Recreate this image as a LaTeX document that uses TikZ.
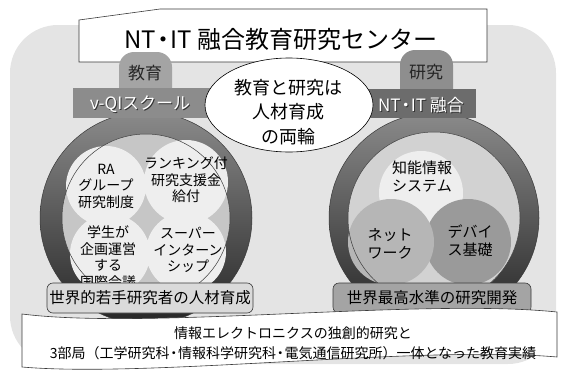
\documentclass[tikz,border=0pt]{standalone}
\usepackage{fontspec}
\setmainfont{Noto Sans CJK JP}
\usetikzlibrary{shapes.geometric}
\definecolor{bgcol}{HTML}{E4E4E4}
\definecolor{tabA}{HTML}{A4A4A4}
\definecolor{tabB}{HTML}{8E8E8E}
\definecolor{barA}{HTML}{8C8C8C}
\definecolor{barB}{HTML}{6C6C6C}
\definecolor{ringtop}{HTML}{8A8A8A}
\definecolor{ringbot}{HTML}{262626}
\definecolor{discL}{HTML}{C6C6C6}
\definecolor{discR}{HTML}{D2D2D2}
\definecolor{circW}{HTML}{EEEEEE}
\definecolor{circM}{HTML}{B6B6B6}
\definecolor{circD}{HTML}{9A9A9A}
\definecolor{lblA}{HTML}{DADADA}
\definecolor{lblB}{HTML}{A4A4A4}
\definecolor{edge}{HTML}{3A3A3A}
\newcommand{\fs}[2]{\fontsize{#1}{#2}\selectfont}
\newcommand{\ndot}{\makebox[0.6em][c]{・}}
\tikzset{
  ctext/.style={align=center, inner sep=0pt, text=black},
  lbl/.style={draw=edge, line width=0.6pt, rounded corners=6pt, inner sep=0pt, font=\fs{15.5}{18}},
  bartext/.style={inner sep=0pt, text=white, font=\fs{17}{20}},
  shadowtext/.style={inner sep=0pt, text=black!80, font=\fs{17}{20}},
}
\begin{document}
\begin{tikzpicture}[x=1pt,y=-1pt]
\useasboundingbox (0,0) rectangle (562,372);
% background
\fill[bgcol, rounded corners=48pt] (10,25) rectangle (556,364);
% banner
\draw[fill=white, draw=edge, line width=0.6pt] (79,20) -- (160,9) -- (487,9) -- (487,62) -- (79,62) -- cycle;
\node[ctext, font=\fs{24}{28}] (title) at (281,39) {NT\ndot IT 融合教育研究センター};
% tabs
\fill[tabA] (119,100) [rounded corners=15pt] -- (119,52) -- (172,52) [sharp corners] -- (172,100) -- cycle;
\fill[tabB] (400,100) [rounded corners=15pt] -- (400,50) -- (453,50) [sharp corners] -- (453,100) -- cycle;
\node[ctext, font=\fs{17}{20}, text=black!85] (edu) at (145,73) {教育};
\node[ctext, font=\fs{17}{20}, text=black!85] (res) at (426,72) {研究};
% rings
\shade[even odd rule, top color=ringtop, bottom color=ringbot] (146,218) circle (106) (146,218) circle (84);
\shade[even odd rule, top color=ringtop, bottom color=ringbot] (434,218) circle (105) (434,218) circle (86);
\draw[edge, line width=0.5pt] (146,218) circle (106) (434,218) circle (105);
% left interior
\fill[discL] (146,218) circle (84);
\fill[circW] (106,186) circle (40) (186,182) circle (42) (110,254) circle (40) (186,252) circle (40);
\draw[edge, line width=0.5pt] (146,218) circle (84);
\node[ctext, font=\fs{14}{16.5}] (ra) at (106,186) {RA\\グループ\\研究制度};
\node[ctext, font=\fs{14}{16.5}] (rank) at (186,180) {ランキング付\\研究支援金\\給付};
\node[ctext, font=\fs{14}{16.5}] (conf) at (108,257) {学生が\\企画運営\\する\\国際会議};
\node[ctext, font=\fs{14}{16.5}] (intern) at (188,250) {スーパー\\インターン\\シップ};
% right interior
\fill[discR] (434,218) circle (86);
\fill[circW] (421,193) circle (42);
\fill[circD] (468,242) circle (43);
\fill[circM] (391,242) circle (43);
\draw[edge, line width=0.5pt] (434,218) circle (86);
\node[ctext, font=\fs{15}{18}] (ai) at (422,177) {知能情報\\システム};
\node[ctext, font=\fs{15}{18}] (net) at (390,244) {ネット\\ワーク};
\node[ctext, font=\fs{15}{18}] (dev) at (470,241) {デバイ\\ス基礎};
% bars
\fill[barA] (73,88) rectangle (210,118);
\fill[barB] (365,89) rectangle (476,118);
\node[shadowtext] at (141,105) {ν-QIスクール};
\node[bartext] (vqi) at (140,104) {ν-QIスクール};
\node[shadowtext] at (422,106) {NT\ndot IT 融合};
\node[bartext] (ntit) at (421,105) {NT\ndot IT 融合};
% ellipse
\node[draw=black, line width=0.6pt, fill=white, ellipse, inner sep=0pt, minimum width=168, minimum height=94] (wheel) at (289,105) {};
\node[ctext, font=\fs{18}{24.5}] (wheeltxt) at (288,112) {教育と研究は\\人材育成\\の両輪};
% labels
\node[lbl, fill=lblA, minimum width=206, minimum height=30] (goalL) at (150,298) {世界的若手研究者の人材育成};
\node[lbl, fill=lblB, minimum width=198, minimum height=30] (goalR) at (432,298) {世界最高水準の研究開発};
% bottom wave banner
\draw[fill=white, draw=edge, line width=0.6pt] (22,314) .. controls (150,330) and (420,298) .. (557,312) -- (557,357) .. controls (420,345) and (150,378) .. (22,367) -- cycle;
\node[ctext, font=\fs{14}{20}] (base) at (293,343) {情報エレクトロニクスの独創的研究と\\3部局（工学研究科\ndot 情報科学研究科\ndot 電気通信研究所）一体となった教育実績};
\end{tikzpicture}
\end{document}
